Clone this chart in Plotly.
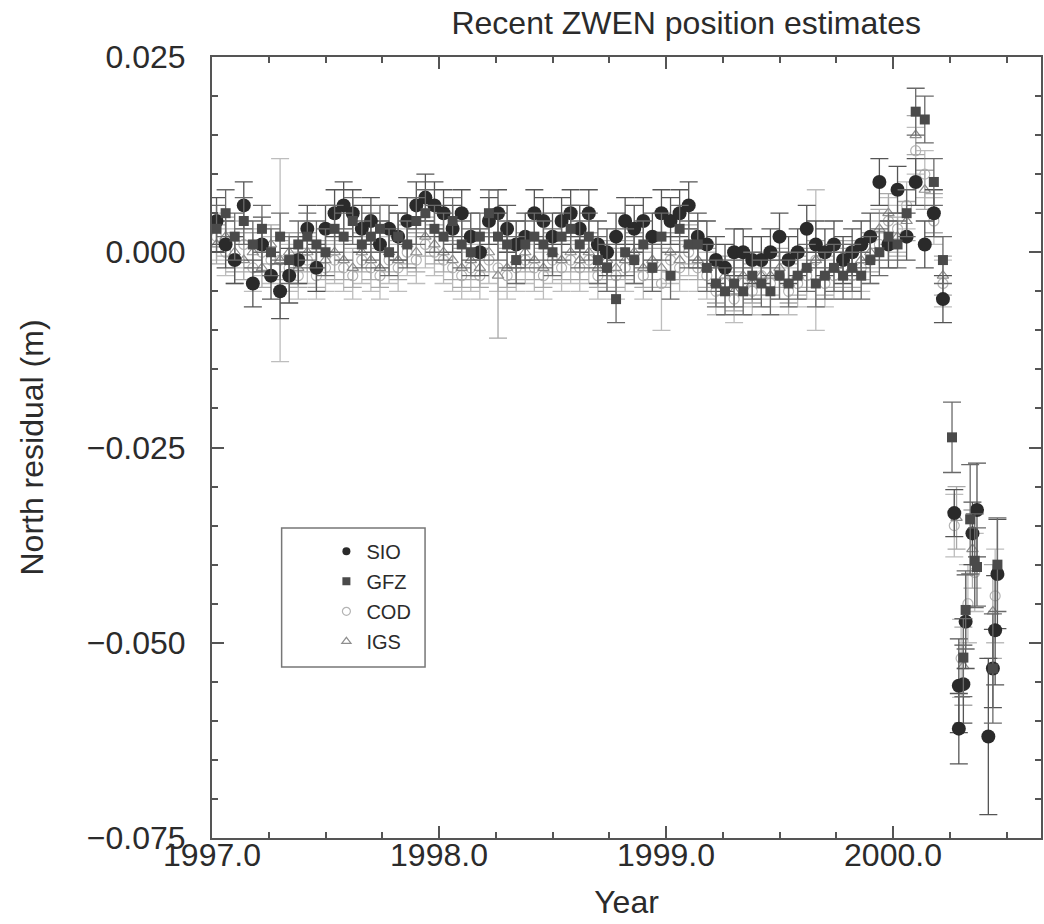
"""North residuals of ZWEN from four analysis centres, 1997-2000.5,
with one-sigma error bars. Values read off the published figure (mm)."""

import plotly.graph_objects as go

# epochs shared by all centres before the offset (decimal years)
DATES = [
    1997.02, 1997.06, 1997.10, 1997.14, 1997.18, 1997.22, 1997.26, 1997.30, 1997.34, 1997.38,
    1997.42, 1997.46, 1997.50, 1997.54, 1997.58, 1997.62, 1997.66, 1997.70, 1997.74, 1997.78,
    1997.82, 1997.86, 1997.90, 1997.94, 1997.98, 1998.02, 1998.06, 1998.10, 1998.14, 1998.18,
    1998.22, 1998.26, 1998.30, 1998.34, 1998.38, 1998.42, 1998.46, 1998.50, 1998.54, 1998.58,
    1998.62, 1998.66, 1998.70, 1998.74, 1998.78, 1998.82, 1998.86, 1998.90, 1998.94, 1998.98,
    1999.02, 1999.06, 1999.10, 1999.14, 1999.18, 1999.22, 1999.26, 1999.30, 1999.34, 1999.38,
    1999.42, 1999.46, 1999.50, 1999.54, 1999.58, 1999.62, 1999.66, 1999.70, 1999.74, 1999.78,
    1999.82, 1999.86, 1999.90, 1999.94, 1999.98, 2000.02, 2000.06, 2000.10, 2000.14, 2000.18,
    2000.22,
]

# north residuals in mm
SIO_MM = [
    4, 1, -1, 6, -4, 1, -3, -5, -3, -1,
    3, -2, 3, 5, 6, 5, 3, 4, 1, 3,
    2, 4, 6, 7, 6, 5, 3, 5, 2, 0,
    4, 5, 3, 1, 2, 5, 4, 2, 4, 5,
    3, 5, 1, 0, 2, 4, 3, 4, 2, 5,
    4, 5, 6, 2, 1, -1, -2, 0, 0, -1,
    -1, 0, 2, -1, 0, 3, 1, 0, 1, -1,
    0, 1, 2, 9, 1, 8, 2, 9, 1, 5,
    -6,
]
SIO_ERR = [
    3, 3, 3, 3, 3, 3.5, 3, 3.5, 3.5, 3,
    3, 3, 3, 3, 3, 3, 3, 3, 3, 3,
    3, 3, 3, 3, 3, 3, 3, 3, 3, 3,
    3, 3, 3, 3, 3, 3, 3, 3, 3, 3,
    3, 3, 3, 3, 3, 3, 3, 3, 3, 3,
    3, 3, 3, 3, 3, 3, 3, 3, 3, 3,
    3, 3, 3, 3, 3, 3, 3, 3, 3, 3,
    3, 3, 3, 3, 3, 3, 3, 3, 3, 3,
    3,
]
GFZ_MM = [
    3, 5, 2, 4, 1, 3, 0, 2, -1, 1,
    2, 1, 0, 3, 2, 4, 1, 2, 3, 0,
    2, 1, 4, 5, 3, 2, 4, 1, 0, 2,
    5, 2, 1, -1, 1, 2, 1, 0, 2, 3,
    1, 2, -1, -2, -6, 0, -1, 1, -2, 2,
    -3, 3, 1, 1, -2, -4, -5, -4, -5, -3,
    -4, -5, -3, -4, -3, -2, -4, -3, -2, -3,
    -2, -3, -1, 0, 2, 1, 5, 18, 17, 9,
    -1,
]
GFZ_ERR = [
    3, 3, 3, 3, 3, 3, 3, 3, 3, 3,
    3, 3, 3, 3, 3, 3, 3, 3, 3, 3,
    3, 3, 3, 3, 3, 3, 3, 3, 3, 3,
    3, 3, 3, 3, 3, 3, 3, 3, 3, 3,
    3, 3, 3, 3, 3, 3, 3, 3, 3, 3,
    3, 3, 3, 3, 3, 3, 3, 3, 3, 3,
    3, 3, 3, 3, 3, 3, 3, 3, 3, 3,
    3, 3, 3, 3, 3, 3, 3, 3, 3, 3,
    3,
]
COD_MM = [
    2, 0, -1, 1, -2, 0, -1, -1, -2, -3,
    -1, -3, -2, -1, -2, -3, -1, -2, -3, -1,
    -2, 0, -1, 1, 0, -1, -2, -3, -2, -3,
    -1, -2, -3, -2, -1, -2, -3, -1, -2, -1,
    -2, -1, -3, -2, -3, -2, -1, -3, -2, -4,
    -1, -2, 0, -2, -3, -5, -4, -6, -4, -5,
    -3, -4, -3, -5, -4, -3, -1, -4, -3, -2,
    -3, -2, -1, 1, 4, 3, 6, 13, 10, 4,
    -4,
]
COD_ERR = [
    3, 3, 3, 3, 3, 3, 3, 13, 3, 3,
    3, 3, 3, 3, 3, 3, 3, 3, 3, 3,
    3, 3, 3, 3, 3, 3, 3, 3, 3, 3,
    3, 3, 3, 3, 3, 3, 3, 3, 3, 3,
    3, 3, 3, 3, 3, 3, 3, 3, 3, 6,
    3, 3, 3, 3, 3, 3, 3, 3, 3, 3,
    3, 3, 3, 3, 3, 3, 9, 3, 3, 3,
    3, 3, 3, 3, 3, 3, 3, 3, 3, 3,
    3,
]
IGS_MM = [
    1, 2, 0, -1, 0, -2, 1, -1, 0, -2,
    0, -2, -1, 0, -1, -2, 0, -1, -2, 0,
    -1, 1, 0, 2, 1, 0, -1, -2, -1, -2,
    0, -3, -2, -1, 0, -1, -2, 0, -1, 0,
    -1, 0, -2, -1, -2, -1, 0, -2, -1, -2,
    0, -1, 1, -1, -2, -4, -3, -5, -3, -4,
    -3, -3, -2, -4, -3, -2, -1, -3, -2, -1,
    -2, -1, 0, 3, 5, 2, 4, 15, 8, 5,
    -3,
]
IGS_ERR = [
    2.5, 2.5, 2.5, 2.5, 2.5, 2.5, 2.5, 2.5, 2.5, 2.5,
    2.5, 2.5, 2.5, 2.5, 2.5, 2.5, 2.5, 2.5, 2.5, 2.5,
    2.5, 2.5, 2.5, 2.5, 2.5, 2.5, 2.5, 2.5, 2.5, 2.5,
    2.5, 8, 2.5, 2.5, 2.5, 2.5, 2.5, 2.5, 2.5, 2.5,
    2.5, 2.5, 2.5, 2.5, 2.5, 2.5, 2.5, 2.5, 2.5, 2.5,
    2.5, 2.5, 2.5, 2.5, 2.5, 2.5, 2.5, 2.5, 2.5, 2.5,
    2.5, 2.5, 2.5, 2.5, 2.5, 2.5, 2.5, 2.5, 2.5, 2.5,
    2.5, 2.5, 2.5, 2.5, 2.5, 2.5, 2.5, 2.5, 2.5, 2.5,
    2.5,
]

# after the offset in early 2000 (own epochs per centre)
SIO_POST_X = [2000.27, 2000.29, 2000.29, 2000.31, 2000.32, 2000.35, 2000.37, 2000.42, 2000.44, 2000.45, 2000.46]
SIO_POST_MM = [-33.4, -55.5, -61.0, -55.3, -47.3, -36.0, -33.0, -62.0, -53.3, -48.4, -41.2]
SIO_POST_ERR = [3, 6, 4.5, 5, 6, 4, 6, 10, 5, 7, 7]
GFZ_POST_X = [2000.26, 2000.31, 2000.32, 2000.34, 2000.36, 2000.37, 2000.44, 2000.46]
GFZ_POST_MM = [-23.7, -51.9, -45.8, -34.2, -39.5, -40.3, -53.3, -40.0]
GFZ_POST_ERR = [4.5, 5, 5, 7, 6, 5, 7, 6]
COD_POST_X = [2000.27, 2000.30, 2000.33, 2000.36, 2000.45]
COD_POST_MM = [-35, -52, -45, -41, -44]
COD_POST_ERR = [4, 5, 5, 5, 6]
IGS_POST_X = [2000.28, 2000.31, 2000.35, 2000.44]
IGS_POST_MM = [-34, -53, -38, -46]
IGS_POST_ERR = [4, 5, 5, 6]

CENTRES = ["SIO", "GFZ", "COD", "IGS"]

STYLE = {
    "SIO": dict(symbol="circle", size=14, color="#2a2a2a", line=None, bar="#555555"),
    "GFZ": dict(symbol="square", size=10, color="#4a4a4a", line=None, bar="#6a6a6a"),
    "COD": dict(symbol="circle-open", size=10, color="#b4b4b4", line=1.2, bar="#bdbdbd"),
    "IGS": dict(symbol="triangle-up-open", size=10, color="#8e8e8e", line=1.2, bar="#a8a8a8"),
}

SERIES = {
    "SIO": (DATES + SIO_POST_X, SIO_MM + SIO_POST_MM, SIO_ERR + SIO_POST_ERR),
    "GFZ": (DATES + GFZ_POST_X, GFZ_MM + GFZ_POST_MM, GFZ_ERR + GFZ_POST_ERR),
    "COD": (DATES + COD_POST_X, COD_MM + COD_POST_MM, COD_ERR + COD_POST_ERR),
    "IGS": (DATES + IGS_POST_X, IGS_MM + IGS_POST_MM, IGS_ERR + IGS_POST_ERR),
}

FONT = "Liberation Sans, Arial, Helvetica, sans-serif"
INK = "#2b2b2b"

fig = go.Figure()

# light centres underneath, dark ones on top
for name in ["COD", "IGS", "SIO", "GFZ"]:
    xs, mm, err = SERIES[name]
    st = STYLE[name]
    marker = dict(symbol=st["symbol"], size=st["size"], color=st["color"])
    if st["line"]:
        marker["line"] = dict(color=st["color"], width=st["line"])
    fig.add_trace(go.Scatter(
        x=xs, y=[v / 1000 for v in mm],
        mode="markers",
        marker=marker,
        error_y=dict(type="data", array=[e / 1000 for e in err], visible=True,
                     color=st["bar"], thickness=1.3, width=9),
        name=name, showlegend=False,
    ))

# legend entries with small symbols, as in the original key
for i, name in enumerate(CENTRES):
    st = STYLE[name]
    marker = dict(symbol=st["symbol"], size=8, color=st["color"])
    if st["line"]:
        marker["line"] = dict(color=st["color"], width=1.2)
    fig.add_trace(go.Scatter(
        x=[None], y=[None], mode="markers", marker=marker,
        name=name, legendgroup=name, legendrank=i + 1,
    ))

axis_common = dict(
    showline=True, linecolor="#555555", linewidth=2, mirror="allticks",
    ticks="inside", ticklen=12, tickwidth=1.5, tickcolor="#555555",
    showgrid=False, zeroline=False, automargin=False,
    tickfont=dict(family=FONT, size=32, color=INK),
)

fig.update_xaxes(
    range=[1997.0, 2000.652], dtick=1, tick0=1997, tickformat=".1f",
    minor=dict(dtick=0.25, ticks="inside", ticklen=6, tickcolor="#555555", showgrid=False),
    ticklabelstandoff=-12,
    title=dict(text="Year", font=dict(family=FONT, size=32, color=INK), standoff=18),
    **axis_common,
)
fig.update_yaxes(
    range=[-0.075, 0.025], dtick=0.025, tick0=0, tickformat=".3f",
    minor=dict(dtick=0.005, ticks="inside", ticklen=6, tickcolor="#555555", showgrid=False),
    ticklabelstandoff=18,
    title=dict(text="North residual (m)", font=dict(family=FONT, size=32, color=INK), standoff=34),
    **axis_common,
)

# frame round the key
fig.add_shape(type="rect", xref="paper", yref="paper",
              x0=0.084, x1=0.257, y0=0.219, y1=0.397,
              line=dict(color="#777777", width=1.5))

fig.update_layout(
    width=1044, height=924,
    margin=dict(l=212, r=3, t=57, b=86),
    paper_bgcolor="white", plot_bgcolor="white",
    title=dict(text="Recent ZWEN position estimates", xref="paper", x=0.572, xanchor="center",
               yref="container", y=0.975, yanchor="middle",
               font=dict(family=FONT, size=32, color=INK)),
    legend=dict(x=0.138, y=0.392, xanchor="left", yanchor="top",
                bgcolor="rgba(0,0,0,0)", borderwidth=0,
                traceorder="grouped", tracegroupgap=1,
                font=dict(family=FONT, size=20, color=INK)),
    showlegend=True,
)

# page body has a default 8px margin; drop it so the figure sits at the window corner
fig.write_html("out.html", config={"displayModeBar": False},
               post_script="document.body.style.margin='0';document.body.style.overflow='hidden';")
